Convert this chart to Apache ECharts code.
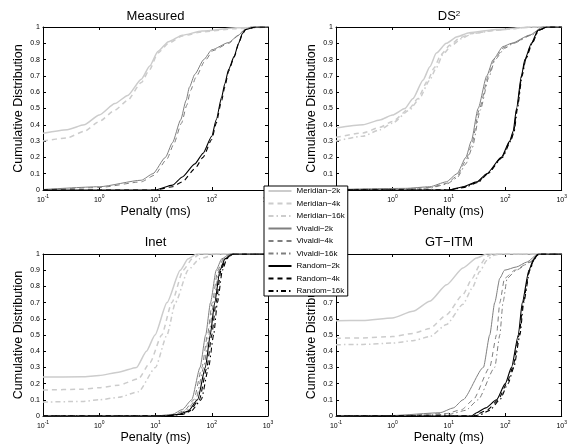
<!DOCTYPE html>
<html><head><meta charset="utf-8">
<script src="https://cdn.jsdelivr.net/npm/echarts@6/dist/echarts.min.js"></script>
<style>html,body{margin:0;padding:0;background:#fff}#c{width:570px;height:445px}</style>
</head><body><div id="c"></div>
<script>
// ---- labels ----
const panelTitles = ['Measured', 'DS{s|2}', 'Inet', 'GT\u2212ITM'];
const seriesNames = ['Meridian\u22122k','Meridian\u22124k','Meridian\u221216k','Vivaldi\u22122k','Vivaldi\u22124k','Vivaldi\u221216k','Random\u22122k','Random\u22124k','Random\u221216k'];
const xTickValues = [0.1, 1, 10, 100, 1000];
const yTickValues = [0, 0.1, 0.2, 0.3, 0.4, 0.5, 0.6, 0.7, 0.8, 0.9, 1];
const xAxisTitle = 'Penalty (ms)';
const yAxisTitle = 'Cumulative Distribution';

// ---- Measured ----
const measMer2k = [[0.1,0.348],[0.27,0.37],[0.54,0.40],[1,0.46],[1.9,0.53],[3.2,0.58],[5.6,0.68],[7.9,0.76],[11,0.85],[17,0.91],[30,0.95],[67,0.975],[270,0.995],[1000,1]];
const measMer4k = [[0.1,0.30],[0.27,0.32],[0.54,0.36],[1,0.42],[1.9,0.49],[3.2,0.55],[5.6,0.66],[7.9,0.74],[11,0.84],[17,0.90],[30,0.945],[67,0.97],[270,0.99],[1000,1]];
const measViv2k = [[0.1,0.003],[1,0.02],[5.6,0.06],[9,0.1],[15,0.2],[20,0.29],[28,0.43],[35,0.55],[40,0.63],[50,0.71],[72,0.8],[100,0.86],[200,0.905],[300,0.95],[370,0.98],[500,1],[1000,1]];
const measViv4k = [[0.1,0.002],[1,0.015],[5.6,0.05],[9.5,0.09],[16,0.19],[21,0.28],[29,0.41],[36,0.52],[42,0.61],[52,0.69],[75,0.79],[105,0.855],[200,0.9],[300,0.948],[380,0.98],[500,1],[1000,1]];
const measRnd2k = [[0.1,0],[10,0],[20,0.03],[30,0.08],[50,0.16],[70,0.225],[100,0.33],[120,0.43],[150,0.57],[170,0.65],[200,0.74],[250,0.82],[300,0.9],[350,0.96],[400,0.985],[600,1],[1000,1]];
const measRnd4k = [[0.1,0],[10,0],[20,0.02],[30,0.05],[50,0.13],[70,0.2],[100,0.31],[120,0.41],[150,0.55],[170,0.63],[200,0.73],[250,0.815],[300,0.895],[350,0.955],[400,0.985],[600,1],[1000,1]];

// ---- DS2 ----
const dsMer2k = [[0.1,0.38],[0.3,0.40],[0.6,0.43],[1,0.46],[1.66,0.5],[2.3,0.56],[3.5,0.675],[4.6,0.756],[6,0.84],[9,0.90],[14,0.94],[23,0.965],[69,0.985],[300,1],[1000,1]];
const dsMer4k = [[0.1,0.323],[0.3,0.35],[0.6,0.385],[1,0.42],[2,0.5],[2.8,0.56],[4.2,0.67],[5.5,0.75],[7.2,0.83],[10.5,0.89],[16,0.935],[25,0.96],[69,0.98],[300,1],[1000,1]];
const dsMer16k = [[0.1,0.30],[0.3,0.33],[0.6,0.37],[1,0.41],[2,0.49],[3,0.56],[4.5,0.67],[6,0.75],[7.8,0.83],[11,0.885],[17,0.93],[26,0.96],[69,0.98],[300,1],[1000,1]];
const dsViv2k = [[0.1,0.003],[1.7,0.01],[4.6,0.02],[9,0.05],[14,0.1],[20,0.2],[25,0.3],[33,0.5],[47,0.7],[61,0.8],[91,0.88],[129,0.9],[270,0.95],[460,1],[1000,1]];
const dsViv4k = [[0.1,0.002],[1.7,0.008],[4.6,0.015],[9,0.04],[14,0.085],[20,0.18],[25,0.27],[35,0.5],[50,0.7],[64,0.8],[95,0.875],[135,0.9],[280,0.95],[470,1],[1000,1]];
const dsViv16k = [[0.1,0.002],[1.7,0.006],[4.6,0.012],[9,0.035],[14,0.075],[20,0.16],[26,0.26],[36,0.49],[51,0.69],[66,0.8],[98,0.87],[140,0.9],[290,0.95],[480,1],[1000,1]];
const dsRnd2k = [[0.1,0],[10,0],[18,0.02],[31,0.05],[47,0.1],[85,0.2],[120,0.3],[138,0.36],[158,0.5],[193,0.7],[222,0.8],[290,0.9],[380,0.98],[540,1],[1000,1]];
const dsRnd4k = [[0.1,0],[10,0],[18.5,0.018],[32,0.048],[48,0.1],[87,0.2],[122,0.3],[141,0.36],[161,0.5],[196,0.7],[226,0.8],[295,0.9],[385,0.98],[545,1],[1000,1]];
const dsRnd16k = [[0.1,0],[10,0],[19,0.016],[33,0.046],[49,0.1],[89,0.2],[125,0.3],[144,0.36],[164,0.5],[199,0.7],[230,0.8],[300,0.9],[390,0.98],[550,1],[1000,1]];

// ---- Inet ----
const inMer2k = [[0.1,0.24],[0.5,0.242],[1,0.25],[2.2,0.27],[4.6,0.30],[6.9,0.4],[9.8,0.5],[16,0.7],[27.5,0.9],[38,0.97],[54,1],[1000,1]];
const inMer4k = [[0.1,0.16],[0.5,0.165],[1,0.175],[2.2,0.19],[5,0.23],[8,0.33],[12.9,0.5],[19.5,0.7],[31,0.9],[45,0.97],[62,1],[1000,1]];
const inMer16k = [[0.1,0.086],[0.5,0.09],[1,0.1],[2.2,0.115],[5,0.15],[10,0.3],[16,0.5],[22.6,0.7],[38,0.9],[60,0.97],[123,1],[1000,1]];
const inViv2k = [[0.1,0],[10,0],[20,0.01],[30,0.04],[44,0.1],[62,0.3],[78,0.5],[95,0.7],[120,0.9],[150,0.97],[210,1],[1000,1]];
const inViv4k = [[0.1,0],[12,0],[22,0.01],[33,0.035],[48,0.1],[67,0.3],[84,0.5],[102,0.7],[128,0.9],[160,0.97],[220,1],[1000,1]];
const inViv16k = [[0.1,0],[13,0],[24,0.01],[36,0.035],[52,0.1],[72,0.3],[89,0.5],[108,0.7],[135,0.9],[168,0.97],[225,1],[1000,1]];
const inRnd2k = [[0.1,0],[14,0],[26,0.01],[38,0.03],[56,0.1],[77,0.3],[94,0.5],[113,0.7],[140,0.9],[172,0.97],[230,1],[1000,1]];
const inRnd4k = [[0.1,0],[15,0],[28,0.01],[40,0.03],[60,0.1],[82,0.3],[100,0.5],[119,0.7],[146,0.9],[178,0.97],[235,1],[1000,1]];
const inRnd16k = [[0.1,0],[16,0],[30,0.01],[43,0.03],[65,0.1],[88,0.3],[108,0.5],[126,0.7],[155,0.9],[185,0.97],[240,1],[1000,1]];

// ---- GT-ITM ----
const gtMer2k = [[0.1,0.588],[0.3,0.59],[1,0.605],[2.3,0.646],[4.6,0.708],[9.1,0.81],[17.8,0.914],[31,0.975],[47,1],[1000,1]];
const gtMer4k = [[0.1,0.48],[0.3,0.482],[1,0.49],[2.3,0.51],[4.6,0.54],[9.1,0.625],[17.8,0.75],[26,0.85],[35,0.93],[47,0.985],[60,1],[1000,1]];
const gtMer16k = [[0.1,0.44],[0.3,0.442],[1,0.45],[2.3,0.465],[4.6,0.49],[9.1,0.565],[17.8,0.69],[26,0.79],[35,0.89],[47,0.96],[60,0.99],[80,1],[1000,1]];
const gtViv2k = [[0.1,0],[1,0.003],[7,0.02],[12,0.05],[17.8,0.1],[41,0.3],[53,0.5],[65,0.7],[80,0.85],[97,0.9],[158,0.92],[240,0.95],[380,1],[1000,1]];
const gtViv4k = [[0.1,0],[1,0.002],[9,0.015],[17,0.04],[27,0.1],[53,0.3],[70,0.5],[80,0.7],[97,0.85],[148,0.9],[270,0.95],[400,1],[1000,1]];
const gtViv16k = [[0.1,0],[1,0.001],[10,0.01],[20,0.035],[33,0.1],[65,0.3],[80,0.5],[91,0.7],[108,0.85],[155,0.9],[280,0.95],[410,1],[1000,1]];
const gtRnd2k = [[0.1,0],[25,0],[31,0.02],[45,0.05],[70,0.1],[100,0.2],[129,0.3],[170,0.5],[200,0.7],[262,0.9],[320,0.97],[380,1],[1000,1]];
const gtRnd4k = [[0.1,0],[27,0],[34,0.015],[49,0.04],[75,0.1],[106,0.2],[136,0.3],[176,0.5],[207,0.7],[268,0.9],[325,0.97],[385,1],[1000,1]];
const gtRnd16k = [[0.1,0],[28,0],[37,0.01],[53,0.035],[80,0.1],[112,0.2],[142,0.3],[182,0.5],[212,0.7],[272,0.9],[330,0.97],[390,1],[1000,1]];

const panelData = [
  [measMer2k, measMer4k, null, measViv2k, measViv4k, null, measRnd2k, measRnd4k, null],
  [dsMer2k, dsMer4k, dsMer16k, dsViv2k, dsViv4k, dsViv16k, dsRnd2k, dsRnd4k, dsRnd16k],
  [inMer2k, inMer4k, inMer16k, inViv2k, inViv4k, inViv16k, inRnd2k, inRnd4k, inRnd16k],
  [gtMer2k, gtMer4k, gtMer16k, gtViv2k, gtViv4k, gtViv16k, gtRnd2k, gtRnd4k, gtRnd16k]
];

// ---- styling ----
const FONT = '"Liberation Sans", Arial, Helvetica, sans-serif';
const colors = ['#cccccc','#cccccc','#cccccc','#7f7f7f','#7f7f7f','#7f7f7f','#000000','#000000','#000000'];
const widths = [1.5,1.5,1.5,1,1,1,1.1,1.1,1.1];
const dashes = ['solid',[5,4],[5,3,1.5,3],'solid',[5,4],[5,3,1.5,3],'solid',[5,4],[5,3,1.5,3]];
const gridBoxes = [
  {left:43, top:27, width:225, height:163},
  {left:336, top:27, width:226, height:163},
  {left:43, top:254, width:225, height:162},
  {left:336, top:254, width:226, height:162}
];
const titlePos = [[155.5,16.5],[449,16.5],[155.5,242.5],[449,242]];

const xAxes = [], yAxes = [], series = [], graphics = [];
gridBoxes.forEach((g, i) => {
  const common = {gridIndex:i, type:'log', logBase:10, min:xTickValues[0], max:xTickValues[xTickValues.length-1],
    splitLine:{show:false}, axisLine:{show:true, onZero:false, lineStyle:{color:'#000', width:1}},
    axisTick:{show:true, inside:true, length:3, lineStyle:{color:'#000'}}};
  xAxes.push(Object.assign({}, common, {position:'bottom',
    axisLabel:{show:true, margin:4, color:'#000', fontFamily:FONT,
      formatter: v => '{b|10}{s|' + Math.round(Math.log10(v)) + '}',
      rich:{b:{fontSize:7, fontFamily:FONT, color:'#000', lineHeight:10, verticalAlign:'bottom'},
            s:{fontSize:5, fontFamily:FONT, color:'#000', lineHeight:10, verticalAlign:'top', padding:[0,0,4,0]}}},
    name:xAxisTitle, nameLocation:'middle', nameGap:12,
    nameTextStyle:{fontSize:12.5, color:'#000', fontFamily:FONT, verticalAlign:'top', lineHeight:13}}));
  xAxes.push(Object.assign({}, common, {position:'top', axisLabel:{show:false}}));
  const ycommon = {gridIndex:i, type:'value', min:yTickValues[0], max:yTickValues[yTickValues.length-1], interval:0.1,
    splitLine:{show:false}, axisLine:{show:true, onZero:false, lineStyle:{color:'#000', width:1}},
    axisTick:{show:true, inside:true, length:3, lineStyle:{color:'#000'}}};
  yAxes.push(Object.assign({}, ycommon, {position:'left',
    axisLabel:{show:true, margin:3, fontSize:7, color:'#000', fontFamily:FONT,
      formatter: v => (Math.abs(v) < 1e-9 ? '0' : Math.abs(v-1) < 1e-9 ? '1' : v.toFixed(1))},
    name:yAxisTitle, nameLocation:'middle', nameGap:18,
    nameTextStyle:{fontSize:12.5, color:'#000', fontFamily:FONT}}));
  yAxes.push(Object.assign({}, ycommon, {position:'right', axisLabel:{show:false}}));

  panelData[i].forEach((d, j) => {
    if (!d) return;
    series.push({type:'line', name:seriesNames[j], xAxisIndex:2*i, yAxisIndex:2*i, data:d,
      symbol:'none', showSymbol:false, smooth:0.2, smoothMonotone:'x', clip:true,
      lineStyle:{color:colors[j], width:widths[j], type:dashes[j]}, itemStyle:{color:colors[j]},
      z: 2 + (j < 3 ? 0 : j < 6 ? 1 : 2)});
  });

  graphics.push({type:'text', x:titlePos[i][0], y:titlePos[i][1], z:10,
    style:{text:panelTitles[i], fontSize:13, fontFamily:FONT, fill:'#000',
      align:'center', verticalAlign:'middle', textAlign:'center', textVerticalAlign:'middle',
      rich:{s:{fontSize:8, fontFamily:FONT, fill:'#000', verticalAlign:'top', lineHeight:14, padding:[0,0,6,0]}}}});
});

const chart = echarts.init(document.getElementById('c'), null, {renderer:'canvas'});
chart.setOption({
  animation:false,
  backgroundColor:'#fff',
  grid: gridBoxes.map(g => Object.assign({containLabel:false}, g)),
  xAxis: xAxes,
  yAxis: yAxes,
  series: series,
  graphic: graphics,
  legend: {data:seriesNames, orient:'vertical', left:264, top:186, z:20,
    padding:[1,3,1,3.5], itemGap:4.5, itemWidth:23, itemHeight:8, selectedMode:false,
    itemStyle:{opacity:0, borderWidth:0},
    backgroundColor:'#fff', borderColor:'#000', borderWidth:1, borderRadius:0,
    textStyle:{fontSize:8, color:'#000', fontFamily:FONT}}
});
</script>
</body></html>
